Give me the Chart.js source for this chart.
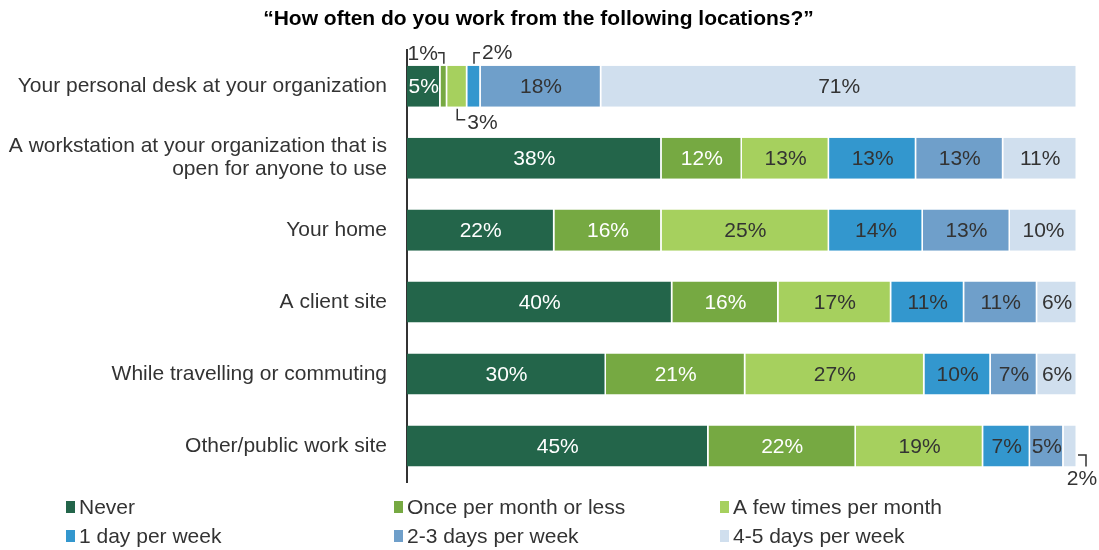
<!DOCTYPE html>
<html>
<head>
<meta charset="utf-8">
<script src="https://cdn.jsdelivr.net/npm/chart.js@4/dist/chart.umd.min.js"></script>
<style>
  html, body { margin: 0; padding: 0; background: #fff; }
  #wrap { width: 1099px; height: 550px; position: relative; }
</style>
</head>
<body>
<div id="wrap"><canvas id="myChart"></canvas></div>
<script>
const FONT = '"Liberation Sans", Arial, sans-serif';

const locations = [
    'Your personal desk at your organization',
    ['A workstation at your organization that is', 'open for anyone to use'],
    'Your home',
    'A client site',
    'While travelling or commuting',
    'Other/public work site'
];

const frequencies = [
    'Never',
    'Once per month or less',
    'A few times per month',
    '1 day per week',
    '2-3 days per week',
    '4-5 days per week'
];

// percentages per frequency, one value per location
const never        = [5, 38, 22, 40, 30, 45];
const oncePerMonth = [1, 12, 16, 16, 21, 22];
const fewPerMonth  = [3, 13, 25, 17, 27, 19];
const oneDay       = [2, 13, 14, 11, 10, 7];
const twoThree     = [18, 13, 13, 11, 7, 5];
const fourFive     = [71, 11, 10, 6, 6, 2];

const seriesValues = [never, oncePerMonth, fewPerMonth, oneDay, twoThree, fourFive];

const colors = ['#23654A', '#76A942', '#A6D05E', '#3397CE', '#6F9FCA', '#D0DFEE'];
const labelColors = ['#ffffff', '#ffffff', '#333333', '#333333', '#333333', '#333333'];

// rows that add up to 101 get scaled so every bar fills the axis
const rowTotals = locations.map((l, i) => seriesValues.reduce((s, arr) => s + arr[i], 0));

const datasets = frequencies.map((name, k) => ({
    label: name,
    data: seriesValues[k].map((v, i) => v / rowTotals[i] * 100),
    raw: seriesValues[k],
    backgroundColor: colors[k],
    borderColor: '#ffffff',
    borderWidth: { right: 1.5 },
    borderSkipped: false,
    barPercentage: 0.57,
    categoryPercentage: 1.0
}));

// small segments whose label sits outside the bar with a leader line
// key: datasetIndex-rowIndex
const callouts = {
    '1-0': 'aboveLeft',
    '2-0': 'belowRight',
    '3-0': 'aboveRight',
    '5-5': 'rightBelow'
};

const segmentLabels = {
    id: 'segmentLabels',
    afterDatasetsDraw(chart) {
        const ctx = chart.ctx;
        ctx.save();
        ctx.font = '21px ' + FONT;
        ctx.textBaseline = 'middle';
        chart.data.datasets.forEach((ds, k) => {
            chart.getDatasetMeta(k).data.forEach((bar, i) => {
                const txt = ds.raw[i] + '%';
                const left = bar.base, right = bar.x;
                const cx = (left + right) / 2;
                const top = bar.y - bar.height / 2, bottom = bar.y + bar.height / 2;
                const mode = callouts[k + '-' + i];
                if (!mode) {
                    ctx.fillStyle = labelColors[k];
                    ctx.textAlign = 'center';
                    ctx.fillText(txt, cx, bar.y + 1);
                    return;
                }
                ctx.strokeStyle = '#333333';
                ctx.lineWidth = 1.5;
                ctx.fillStyle = '#333333';
                ctx.beginPath();
                if (mode === 'aboveLeft') {
                    const ly = top - 13;
                    ctx.moveTo(cx, top - 2);
                    ctx.lineTo(cx, ly);
                    ctx.lineTo(cx - 6, ly);
                    ctx.stroke();
                    ctx.textAlign = 'right';
                    ctx.fillText(txt, cx - 6, ly + 2);
                } else if (mode === 'aboveRight') {
                    const ly = top - 13;
                    ctx.moveTo(cx, top - 2);
                    ctx.lineTo(cx, ly);
                    ctx.lineTo(cx + 6, ly);
                    ctx.stroke();
                    ctx.textAlign = 'left';
                    ctx.fillText(txt, cx + 8, ly + 1);
                } else if (mode === 'belowRight') {
                    const ly = bottom + 13;
                    ctx.moveTo(cx, bottom + 2);
                    ctx.lineTo(cx, ly);
                    ctx.lineTo(cx + 8, ly);
                    ctx.stroke();
                    ctx.textAlign = 'left';
                    ctx.fillText(txt, cx + 10, ly + 4);
                } else if (mode === 'rightBelow') {
                    const lx = right + 9;
                    const ly = bar.y + 9;
                    ctx.moveTo(right + 1, ly);
                    ctx.lineTo(lx, ly);
                    ctx.lineTo(lx, bottom);
                    ctx.stroke();
                    ctx.textAlign = 'center';
                    ctx.fillText(txt, lx - 4, bottom + 13);
                }
            });
        });
        ctx.restore();
    }
};

// legend in three columns under the plot
const gridLegend = {
    id: 'gridLegend',
    afterDraw(chart) {
        const ctx = chart.ctx;
        const colX = [66, 394, 720];
        const rowY = [507, 536];
        ctx.save();
        ctx.font = '21px ' + FONT;
        ctx.textBaseline = 'middle';
        ctx.textAlign = 'left';
        frequencies.forEach((name, k) => {
            const x = colX[k % 3];
            const y = rowY[Math.floor(k / 3)];
            ctx.fillStyle = colors[k];
            ctx.fillRect(x, y - 6, 9, 12);
            ctx.fillStyle = '#333333';
            ctx.fillText(name, x + 13, y + 1);
        });
        ctx.restore();
    }
};

const config = {
    type: 'bar',
    data: {
        labels: locations,
        datasets: datasets
    },
    options: {
        indexAxis: 'y',
        responsive: true,
        maintainAspectRatio: false,
        animation: false,
        layout: {
            padding: { left: 0, right: 22, top: 0, bottom: 68 }
        },
        plugins: {
            legend: { display: false },
            tooltip: { enabled: false },
            title: {
                display: true,
                text: '\u201CHow often do you work from the following locations?\u201D',
                color: '#000000',
                font: { family: FONT, size: 21, weight: 'bold' },
                padding: { top: 7, bottom: 18 }
            }
        },
        scales: {
            x: {
                stacked: true,
                display: false,
                min: 0,
                max: 100
            },
            y: {
                stacked: true,
                grid: { display: false, drawTicks: false },
                border: { display: true, color: '#333333', width: 2 },
                ticks: {
                    color: '#333333',
                    padding: 20,
                    font: { family: FONT, size: 21, lineHeight: 1.1 }
                },
                afterFit(scale) {
                    scale.width = 407;
                }
            }
        }
    },
    plugins: [segmentLabels, gridLegend]
};

const myChart = new Chart(document.getElementById('myChart'), config);
</script>
</body>
</html>
